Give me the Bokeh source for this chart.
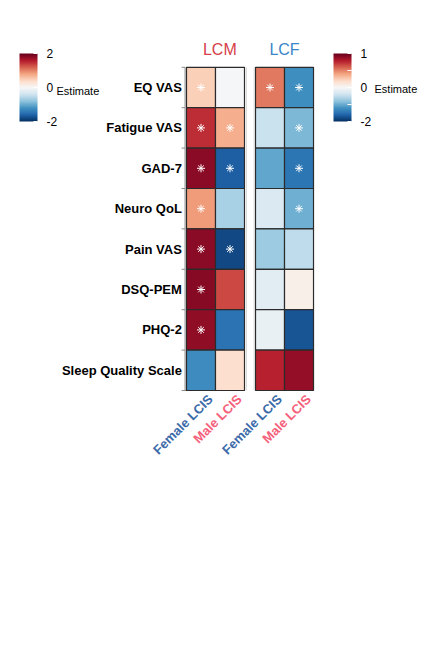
import numpy as np
from bokeh.plotting import figure
from bokeh.models import (ColumnDataSource, LinearColorMapper, ColorBar,
                          FixedTicker, Label, Range1d, CDSView, BooleanFilter)
from bokeh.core.properties import value
from bokeh.embed import file_html
from bokeh.resources import INLINE

# ---- data -------------------------------------------------------------
measures = ["EQ VAS", "Fatigue VAS", "GAD-7", "Neuro QoL", "Pain VAS",
            "DSQ-PEM", "PHQ-2", "Sleep Quality Scale"]
groups = ["Female LCIS", "Male LCIS"]
group_colors = ["#3b6aa8", "#f5607b"]
panels = ["LCM", "LCF"]
panel_colors = ["#d5404a", "#3a86c8"]

lcm_female = [0.48, 1.47, 1.80, 0.85, 1.80, 1.82, 1.78, -1.26]
lcm_male = [-0.03, 0.72, -1.65, -0.65, -1.81, 1.32, -1.47, 0.33]
lcm_female_sig = [True, True, True, True, True, True, True, False]
lcm_male_sig = [False, True, True, False, True, False, False, False]

lcf_female = [0.53, -0.45, -1.05, -0.30, -0.73, -0.24, -0.15, 0.77]
lcf_male = [-1.25, -0.91, -1.45, -0.97, -0.52, 0.06, -1.72, 0.88]
lcf_female_sig = [True, False, False, False, False, False, False, False]
lcf_male_sig = [True, True, True, True, False, False, False, False]

lcm_ticks = [-2, 0, 2]
lcm_tick_labels = ["-2", "0", "2"]
lcf_ticks = [-2, -1, 0, 0.5, 1]
lcf_tick_labels = ["-2", "", "0", "", "1"]

# ---- layout constants (pixels) -----------------------------------------
W, H = 429, 653
CELL_W, CELL_H = 29.0, 40.4
LEFT_PX, BOTTOM_PX = 186.0, 390.0
GAP = 0.38               # space between the two panels, in cell widths
FONT = "Liberation Sans"

# ---- colour scales -----------------------------------------------------
rdbu = ["#053061", "#2166ac", "#4393c3", "#92c5de", "#d1e5f0", "#f7f7f7",
        "#fddbc7", "#f4a582", "#d6604d", "#b2182b", "#67001f"]
_anchor_rgb = np.array([[int(c[i:i + 2], 16) for i in (1, 3, 5)] for c in rdbu], float)
_anchor_pos = np.linspace(0, 1, len(rdbu))


def ramp(fracs):
    out = []
    for f in fracs:
        rgb = [np.interp(f, _anchor_pos, _anchor_rgb[:, k]) for k in range(3)]
        out.append("#%02x%02x%02x" % tuple(int(round(v)) for v in rgb))
    return out


sym_palette = ramp(np.linspace(0, 1, 256))
# LCF scale: -2..0 spans the blue half, 0..1 spans the red half
_v = np.linspace(-2, 1, 256)
lcf_palette = ramp(np.where(_v < 0, 0.5 + _v / 4, 0.5 + _v / 2))

lcm_mapper = LinearColorMapper(palette=sym_palette, low=-2, high=2)
lcf_mapper = LinearColorMapper(palette=lcf_palette, low=-2, high=1)
# legend bar for LCF drawn with the two halves of equal length
lcf_bar_mapper = LinearColorMapper(palette=sym_palette, low=-1, high=1)

# ---- figure ------------------------------------------------------------
p = figure(width=W, height=H, output_backend="svg", toolbar_location=None,
           x_axis_location=None, y_axis_location=None, min_border=0,
           outline_line_color=None, background_fill_color="white",
           x_range=Range1d(-LEFT_PX / CELL_W, (W - LEFT_PX) / CELL_W),
           y_range=Range1d(-(H - BOTTOM_PX) / CELL_H, BOTTOM_PX / CELL_H))
p.grid.visible = False

n = len(measures)
row_y = [n - i - 0.5 for i in range(n)]
panel_x0 = [0.0, 2.0 + GAP]

# axis lines of the left panel and faint panel edges
p.segment(x0=[-0.05, -0.15], y0=[0, 0], x1=[-0.05, 2.0], y1=[n, 0],
          line_color="#8c8c8c", line_width=1)
p.segment(x0=[-0.17] * (n + 1), y0=list(range(n + 1)),
          x1=[-0.05] * (n + 1), y1=list(range(n + 1)),
          line_color="#8c8c8c", line_width=1)
p.segment(x0=[2.07, panel_x0[1] - 0.05], y0=[0, 0],
          x1=[2.07, panel_x0[1] - 0.05], y1=[n, n],
          line_color="#dcdcdc", line_width=1)

panel_data = [
    (lcm_female, lcm_male, lcm_female_sig, lcm_male_sig, lcm_mapper),
    (lcf_female, lcf_male, lcf_female_sig, lcf_male_sig, lcf_mapper),
]

for x0, (fem, mal, fsig, msig, mapper) in zip(panel_x0, panel_data):
    src = ColumnDataSource(dict(
        x=[x0 + 0.5] * n + [x0 + 1.5] * n,
        y=row_y + row_y,
        val=list(fem) + list(mal),
    ))
    p.rect(x="x", y="y", width=1, height=1, source=src,
           fill_color={"field": "val", "transform": mapper},
           line_color="#2b2b2b", line_width=1.2)
    # significance stars
    p.scatter(x="x", y="y", source=src, marker="asterisk", size=8,
              line_color="white", line_width=1.0,
              view=CDSView(filter=BooleanFilter(list(fsig) + list(msig))))

# measure labels
p.text(x=[-0.16] * n, y=row_y, text=measures, text_color="black",
       text_font=value(FONT), text_font_size="13px", text_font_style="bold",
       text_align="right", text_baseline="middle")

# group labels under each panel
gx, gt, gc = [], [], []
for x0 in panel_x0:
    for j, g in enumerate(groups):
        gx.append(x0 + j + 0.5 + 0.33)
        gt.append(g)
        gc.append(group_colors[j])
p.text(x=gx, y=[-0.16] * len(gx), text=gt, text_color=gc, angle=np.pi / 4,
       text_font=value(FONT), text_font_size="13px", text_font_style="bold",
       text_align="right", text_baseline="middle")

# panel titles
p.text(x=[1.15, panel_x0[1] + 1.0], y=[8.44, 8.44], text=panels,
       text_color=panel_colors, text_font=value(FONT),
       text_font_size="16px", text_align="center", text_baseline="middle")

# ---- colour bars -------------------------------------------------------
bar_common = dict(width=18, height=68, padding=0, orientation="vertical",
                  label_standoff=9, major_label_text_font_size="12px",
                  major_label_text_font=FONT, major_label_text_color="black",
                  major_tick_in=4, major_tick_out=0,
                  major_tick_line_color="white", bar_line_color=None,
                  border_line_color=None, background_fill_alpha=0)

cb_left = ColorBar(color_mapper=lcm_mapper, ticker=FixedTicker(ticks=lcm_ticks),
                   major_label_overrides={float(t): s for t, s in zip(lcm_ticks, lcm_tick_labels)},
                   location=(19, H - 121), **bar_common)
p.add_layout(cb_left, "center")

bar_pos = [(t / 2 if t < 0 else t) for t in lcf_ticks]
cb_right = ColorBar(color_mapper=lcf_bar_mapper,
                    ticker=FixedTicker(ticks=bar_pos),
                    major_label_overrides={float(b): s for b, s in zip(bar_pos, lcf_tick_labels)},
                    location=(333, H - 121), **bar_common)
p.add_layout(cb_right, "center")

for xs, ys in [(56, H - 90), (374, H - 88)]:
    p.add_layout(Label(x=xs, y=ys, x_units="screen", y_units="screen",
                       text="Estimate", text_font=FONT, text_font_size="11px",
                       text_baseline="middle", text_color="black"))

open("out.html", "w").write(file_html(p, INLINE))
